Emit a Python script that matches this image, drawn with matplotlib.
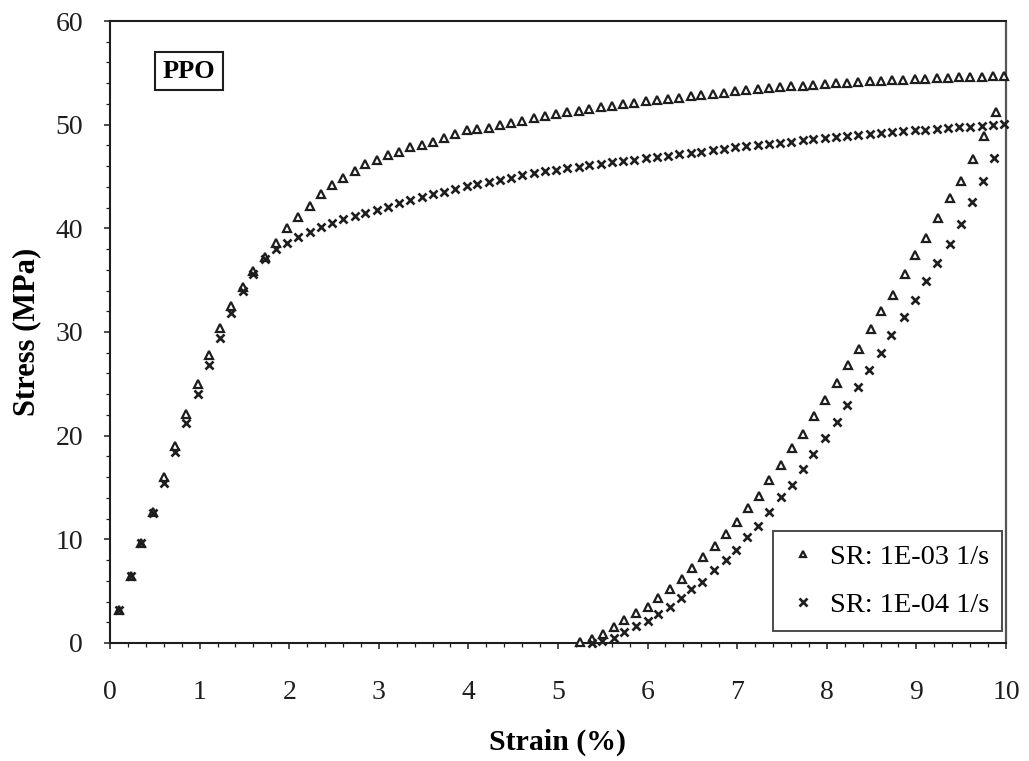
import matplotlib
matplotlib.use("Agg")
import matplotlib.pyplot as plt
from matplotlib.ticker import MultipleLocator

plt.rcParams["font.family"] = ["Liberation Serif", "DejaVu Serif"]

# loading + unloading, strain rate 1E-03 1/s (triangles)
strain_e3 = [0.10, 0.23, 0.35, 0.48, 0.60, 0.73, 0.85, 0.98, 1.10, 1.23,
             1.35, 1.48, 1.60, 1.73, 1.85, 1.98, 2.10, 2.23, 2.35, 2.48,
             2.60, 2.73, 2.85, 2.98, 3.10, 3.23, 3.35, 3.48, 3.60, 3.73,
             3.85, 3.98, 4.10, 4.23, 4.35, 4.48, 4.60, 4.73, 4.85, 4.98,
             5.10, 5.23, 5.35, 5.48, 5.60, 5.73, 5.85, 5.98, 6.10, 6.23,
             6.35, 6.48, 6.60, 6.73, 6.85, 6.98, 7.10, 7.23, 7.35, 7.48,
             7.60, 7.73, 7.85, 7.98, 8.10, 8.23, 8.35, 8.48, 8.60, 8.73,
             8.85, 8.98, 9.10, 9.23, 9.35, 9.48, 9.60, 9.73, 9.85, 9.98,
             9.89, 9.75, 9.63, 9.50, 9.38, 9.24, 9.11, 8.99, 8.87, 8.74,
             8.61, 8.49, 8.36, 8.24, 8.11, 7.98, 7.86, 7.73, 7.61, 7.49,
             7.36, 7.24, 7.12, 7.00, 6.87, 6.75, 6.62, 6.50, 6.38, 6.25,
             6.12, 6.00, 5.87, 5.74, 5.62, 5.50, 5.38, 5.25]
stress_e3 = [3.2, 6.5, 9.6, 12.6, 16.0, 19.0, 22.1, 25.0, 27.8, 30.4,
             32.5, 34.3, 35.9, 37.2, 38.6, 40.0, 41.1, 42.2, 43.3, 44.2,
             44.9, 45.5, 46.2, 46.6, 47.1, 47.4, 47.8, 48.0, 48.3, 48.7,
             49.1, 49.5, 49.6, 49.7, 50.0, 50.2, 50.4, 50.6, 50.8, 51.0,
             51.2, 51.3, 51.5, 51.7, 51.8, 52.0, 52.1, 52.3, 52.4, 52.5,
             52.6, 52.8, 52.9, 53.0, 53.1, 53.2, 53.3, 53.4, 53.5, 53.6,
             53.7, 53.7, 53.8, 53.9, 54.0, 54.0, 54.1, 54.2, 54.2, 54.3,
             54.3, 54.4, 54.4, 54.5, 54.5, 54.6, 54.6, 54.6, 54.7, 54.7,
             51.2, 48.9, 46.7, 44.6, 42.9, 41.0, 39.1, 37.4, 35.6, 33.6,
             32.0, 30.3, 28.4, 26.8, 25.1, 23.4, 21.9, 20.2, 18.8, 17.2,
             15.7, 14.2, 13.0, 11.7, 10.5, 9.35, 8.3, 7.2, 6.2, 5.2,
             4.3, 3.5, 2.85, 2.2, 1.5, 0.9, 0.4, 0.1]

# loading + unloading, strain rate 1E-04 1/s (crosses)
strain_e4 = [0.10, 0.23, 0.35, 0.48, 0.60, 0.73, 0.85, 0.98, 1.10, 1.23,
             1.35, 1.48, 1.60, 1.73, 1.85, 1.98, 2.10, 2.23, 2.35, 2.48,
             2.60, 2.73, 2.85, 2.98, 3.10, 3.23, 3.35, 3.48, 3.60, 3.73,
             3.85, 3.98, 4.10, 4.23, 4.35, 4.48, 4.60, 4.73, 4.85, 4.98,
             5.10, 5.23, 5.35, 5.48, 5.60, 5.73, 5.85, 5.98, 6.10, 6.23,
             6.35, 6.48, 6.60, 6.73, 6.85, 6.98, 7.10, 7.23, 7.35, 7.48,
             7.60, 7.73, 7.85, 7.98, 8.10, 8.23, 8.35, 8.48, 8.60, 8.73,
             8.85, 8.98, 9.10, 9.23, 9.35, 9.48, 9.60, 9.73, 9.85, 9.98,
             9.87, 9.74, 9.62, 9.50, 9.37, 9.23, 9.11, 8.98, 8.86, 8.72,
             8.60, 8.47, 8.35, 8.23, 8.11, 7.98, 7.85, 7.73, 7.61, 7.49,
             7.36, 7.23, 7.11, 6.99, 6.87, 6.74, 6.61, 6.49, 6.37, 6.25,
             6.12, 6.00, 5.87, 5.74, 5.62, 5.49, 5.38]
stress_e4 = [3.2, 6.5, 9.6, 12.5, 15.4, 18.4, 21.2, 24.0, 26.8, 29.4,
             31.8, 34.0, 35.6, 37.0, 38.0, 38.6, 39.2, 39.6, 40.1, 40.5,
             40.9, 41.2, 41.5, 41.8, 42.1, 42.4, 42.7, 43.0, 43.3, 43.5,
             43.8, 44.1, 44.3, 44.5, 44.7, 44.9, 45.1, 45.3, 45.5, 45.6,
             45.8, 45.9, 46.1, 46.2, 46.4, 46.5, 46.6, 46.8, 46.9, 47.0,
             47.2, 47.3, 47.4, 47.6, 47.7, 47.8, 47.9, 48.0, 48.1, 48.2,
             48.3, 48.5, 48.6, 48.7, 48.8, 48.9, 49.0, 49.1, 49.2, 49.3,
             49.4, 49.5, 49.5, 49.6, 49.7, 49.8, 49.8, 49.9, 50.0, 50.1,
             46.8, 44.6, 42.5, 40.4, 38.5, 36.7, 34.9, 33.1, 31.4, 29.7,
             28.0, 26.3, 24.7, 23.0, 21.3, 19.8, 18.2, 16.8, 15.2, 14.1,
             12.6, 11.3, 10.2, 9.0, 8.0, 7.0, 5.9, 5.2, 4.3, 3.5,
             2.8, 2.1, 1.6, 1.05, 0.5, 0.15, 0.0]

labels = ["SR: 1E-03 1/s", "SR: 1E-04 1/s"]

fig = plt.figure(figsize=(10.29, 7.61), dpi=100)
ax = fig.add_axes([0.1069, 0.1551, 0.8707, 0.8173])

ax.plot(strain_e3, stress_e3, linestyle="none", marker="^", markersize=5.5,
        markerfacecolor="white", markeredgecolor="#1e1e1e", markeredgewidth=1.6,
        label=labels[0], clip_on=False, zorder=3)
ax.plot(strain_e4, stress_e4, linestyle="none", marker="x", markersize=6,
        color="#1e1e1e", markeredgewidth=1.9, label=labels[1],
        clip_on=False, zorder=3)

ax.set_xlim(0, 10)
ax.set_ylim(0, 60)
ax.xaxis.set_major_locator(MultipleLocator(1))
ax.xaxis.set_minor_locator(MultipleLocator(0.2))
ax.yaxis.set_major_locator(MultipleLocator(10))
ax.yaxis.set_minor_locator(MultipleLocator(2))
ax.tick_params(which="major", direction="out", length=4.5, width=1.1,
               labelsize=20, colors="#1e1e1e")
ax.tick_params(which="minor", direction="out", length=3, width=0.9,
               colors="#1e1e1e")
ax.tick_params(axis="x", which="major", pad=22)
ax.tick_params(axis="y", which="major", pad=15)

for side in ["left", "bottom", "top"]:
    ax.spines[side].set_linewidth(1.5)
    ax.spines[side].set_color("#1e1e1e")
ax.spines["right"].set_linestyle((0, (1, 1)))
ax.spines["right"].set_linewidth(1.6)
ax.spines["right"].set_color("#555555")

ax.set_xlabel("Strain (%)", fontsize=21.5, fontweight="bold", labelpad=17)
ax.set_ylabel("Stress (MPa)", fontsize=22, fontweight="bold", labelpad=10)

ax.text(0.059, 0.919, "PPO", transform=ax.transAxes, fontsize=19,
        fontweight="bold", ha="left", va="center",
        bbox=dict(boxstyle="square,pad=0.28", facecolor="white",
                  edgecolor="#1e1e1e", linewidth=1.5))

leg = ax.legend(loc="lower right", bbox_to_anchor=(0.9955, 0.019),
                fontsize=20.5, frameon=True, fancybox=False,
                markerscale=0.9, handlelength=1.2, handletextpad=0.35,
                borderpad=0.45, labelspacing=0.8, borderaxespad=0.0)
leg.get_frame().set_edgecolor("#1e1e1e")
leg.get_frame().set_linewidth(1.4)

fig.savefig("out.png", dpi=100)
